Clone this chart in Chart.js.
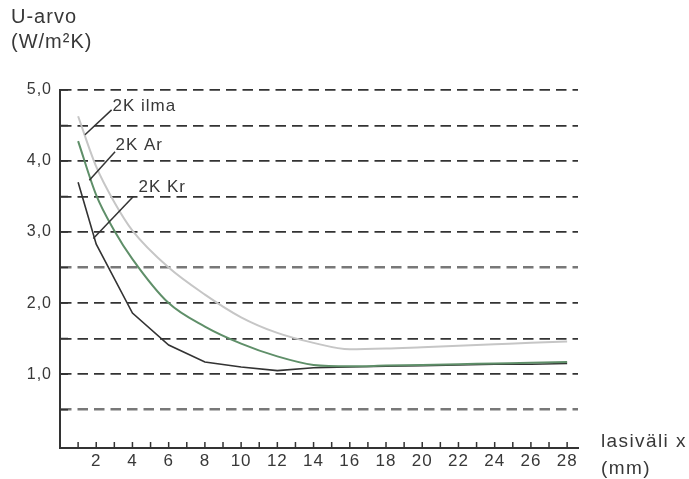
<!DOCTYPE html>
<html>
<head>
<meta charset="utf-8">
<script src="https://cdn.jsdelivr.net/npm/chart.js@4.4.1/dist/chart.umd.min.js"></script>
<style>
  html, body { margin: 0; padding: 0; background: #fff; }
  canvas { display: block; }
</style>
</head>
<body>
<canvas id="chart" width="689" height="479"></canvas>
<script>
// glass gap (mm) and U-values
const gap = [1, 2, 3, 4, 6, 8, 10, 12, 14, 16, 18, 20, 22, 24, 26, 28];
const ilma = [4.63, 3.92, 3.42, 3.02, 2.5, 2.12, 1.8, 1.58, 1.44, 1.35, 1.36, 1.38, 1.4, 1.42, 1.44, 1.46];
const argon = [4.28, 3.52, 3.02, 2.62, 2.0, 1.67, 1.43, 1.25, 1.13, 1.11, 1.12, 1.13, 1.14, 1.15, 1.16, 1.17];
const krypton = [3.7, 2.83, null, 1.86, 1.41, 1.17, 1.1, 1.05, 1.09, 1.1, 1.11, 1.12, 1.13, 1.14, 1.14, 1.15];

const xTicks = [1, 2, 3, 4, 5, 6, 7, 8, 9, 10, 11, 12, 13, 14, 15, 16, 17, 18, 19, 20, 21, 22, 23, 24, 25, 26, 27, 28];
const xLabels = ['', '2', '', '4', '', '6', '', '8', '', '10', '', '12', '', '14', '', '16', '', '18', '', '20', '', '22', '', '24', '', '26', '', '28'];
const yTicks = [0, 0.5, 1, 1.5, 2, 2.5, 3, 3.5, 4, 4.5, 5];
const yLabels = ['', '', '1,0', '', '2,0', '', '3,0', '', '4,0', '', '5,0'];

// curve labels: text spot, pointer start (on curve) and pointer end, in data units
const seriesNames = ['2K ilma', '2K Ar', '2K Kr'];
const namePos = [[2.9, 4.70], [3.06, 4.16], [4.33, 3.57]];
const pointerFrom = [[1.38, 4.37], [1.62, 3.73], [1.84, 2.91]];
const pointerTo = [[2.85, 4.72], [3.04, 4.13], [4.05, 3.5]];

const textColor = '#383838';
const font = 'Liberation Sans, Arial, sans-serif';

function toPoints(vals) {
    return gap.map((x, i) => ({ x: x, y: vals[i] }));
}

const extras = {
    id: 'extras',
    beforeDraw(chart) {
        chart.ctx.letterSpacing = '1px';
    },
    afterDraw(chart) {
        const ctx = chart.ctx;
        const xs = chart.scales.x;
        const ys = chart.scales.y;
        const area = chart.chartArea;
        ctx.save();

        // small tick marks pointing into the plot
        ctx.strokeStyle = '#333';
        ctx.lineWidth = 1.5;
        ctx.beginPath();
        xTicks.forEach(v => {
            const px = xs.getPixelForValue(v);
            ctx.moveTo(px, area.bottom);
            ctx.lineTo(px, area.bottom - 6);
        });
        yTicks.forEach(v => {
            if (v === 0) return;
            const py = ys.getPixelForValue(v);
            ctx.moveTo(area.left, py);
            ctx.lineTo(area.left + 8, py);
        });
        ctx.stroke();

        // pointers and names of the curves
        ctx.lineWidth = 1.5;
        ctx.strokeStyle = '#333';
        seriesNames.forEach((name, i) => {
            ctx.beginPath();
            ctx.moveTo(xs.getPixelForValue(pointerFrom[i][0]), ys.getPixelForValue(pointerFrom[i][1]));
            ctx.lineTo(xs.getPixelForValue(pointerTo[i][0]), ys.getPixelForValue(pointerTo[i][1]));
            ctx.stroke();
        });
        ctx.fillStyle = textColor;
        ctx.textAlign = 'left';
        ctx.textBaseline = 'alphabetic';
        ctx.font = '17px ' + font;
        ctx.letterSpacing = '1px';
        seriesNames.forEach((name, i) => {
            ctx.fillText(name, xs.getPixelForValue(namePos[i][0]), ys.getPixelForValue(namePos[i][1]));
        });

        // axis titles
        ctx.font = '20px ' + font;
        ctx.fillText('U-arvo', 11, 23);
        ctx.fillText('(W/m²K)', 11, 48);
        ctx.font = '19px ' + font;
        ctx.letterSpacing = '1.4px';
        ctx.fillText('lasiväli x', 601, 447);
        ctx.fillText('(mm)', 601, 474);
        ctx.restore();
    }
};

const ctx = document.getElementById('chart').getContext('2d');
new Chart(ctx, {
    type: 'line',
    data: {
        datasets: [{
            label: '2K ilma',
            data: toPoints(ilma),
            borderColor: '#c6c6c6',
            borderWidth: 2,
            cubicInterpolationMode: 'monotone',
            pointRadius: 0
        }, {
            label: '2K Ar',
            data: toPoints(argon),
            borderColor: '#5f8f69',
            borderWidth: 2,
            cubicInterpolationMode: 'monotone',
            pointRadius: 0
        }, {
            label: '2K Kr',
            data: toPoints(krypton),
            borderColor: '#333333',
            borderWidth: 1.6,
            tension: 0,
            spanGaps: true,
            pointRadius: 0
        }]
    },
    options: {
        responsive: false,
        animation: false,
        devicePixelRatio: 1,
        layout: { padding: { top: 90, right: 111, bottom: 0, left: 0 } },
        plugins: {
            legend: { display: false },
            tooltip: { enabled: false }
        },
        scales: {
            x: {
                type: 'linear',
                min: 0,
                max: 28.6,
                afterBuildTicks: scale => { scale.ticks = xTicks.map(v => ({ value: v })); },
                afterFit: scale => { scale.height = 31; },
                grid: { display: false, drawTicks: false },
                border: { display: true, color: '#333', width: 2 },
                ticks: {
                    autoSkip: false,
                    maxRotation: 0,
                    padding: 3,
                    color: textColor,
                    font: { family: font, size: 17 },
                    callback: (value, index) => xLabels[index]
                }
            },
            y: {
                type: 'linear',
                min: -0.04,
                max: 5,
                afterBuildTicks: scale => { scale.ticks = yTicks.map(v => ({ value: v })); },
                afterFit: scale => { scale.width = 60; },
                grid: {
                    drawTicks: false,
                    color: c => {
                        const v = c.tick && c.tick.value;
                        if (v === 0) return 'rgba(0,0,0,0)';
                        if (v === 0.5 || v === 2.5) return '#787878';
                        return '#333333';
                    },
                    lineWidth: c => {
                        const v = c.tick && c.tick.value;
                        return (v === 0.5 || v === 2.5) ? 2.4 : 1.8;
                    }
                },
                border: { display: true, color: '#333', width: 2, dash: [10.5, 6] },
                ticks: {
                    padding: 8,
                    color: textColor,
                    font: { family: font, size: 16 },
                    callback: (value, index) => yLabels[index]
                }
            }
        }
    },
    plugins: [extras]
});
</script>
</body>
</html>
